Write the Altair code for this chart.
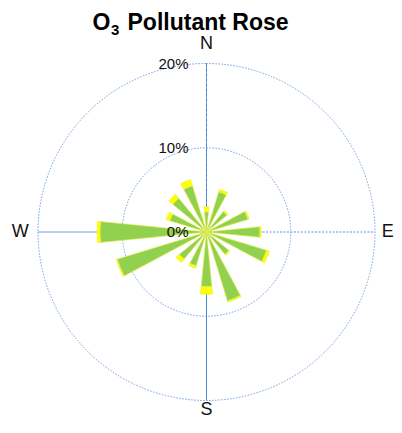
import altair as alt
import pandas as pd

# Wind direction sectors (degrees, clockwise from North)
directions = [0, 22.5, 45, 67.5, 90, 112.5, 135, 157.5,
              180, 202.5, 225, 247.5, 270, 292.5, 315, 337.5]
# Total frequency (%) per sector
totals = [3.0, 5.3, 3.3, 5.3, 6.5, 7.8, 3.6, 8.7,
          7.4, 4.5, 4.7, 11.2, 13.0, 5.0, 5.8, 6.5]
# Portion of the upper concentration bin (yellow) per sector
upper = [0.6, 0.3, 0.15, 0.15, 0.15, 0.35, 0.15, 0.15,
         0.9, 0.3, 0.5, 0.12, 0.35, 0.45, 0.6, 0.75]
bins = ["low", "high"]
bin_colors = ["#92D050", "#FFFF00"]

grid_levels = [10, 20]
pct_labels = ["0%", "10%", "20%"]
pct_values = [0, 10, 20]
compass = ["N", "E", "S", "W"]
compass_angles = [0, 90, 180, 270]
compass_radius = [22.3, 21.5, 21.1, 22.1]

HALF = 5.6
R = 168.5
CX, CY = 198.5, 224.0
W, H = 386, 410

rows = []
for d, t, u in zip(directions, totals, upper):
    lo = t - u
    rows.append({"dir": d, "t0": d - HALF, "t1": d + HALF, "r0": 0, "r1": lo, "bin": bins[0]})
    rows.append({"dir": d, "t0": d - HALF, "t1": d + HALF, "r0": lo, "r1": t, "bin": bins[1]})
wedges = pd.DataFrame(rows)

theta_scale = alt.Scale(type="linear", domain=[0, 360], range=[0, 6.283185307])
r_scale = alt.Scale(type="linear", domain=[0, 20], range=[0, R], zero=True)

cx = alt.value(CX)
cy = alt.value(CY)

circles = alt.Chart(pd.DataFrame({"lvl": grid_levels, "a0": [0, 0], "a1": [360, 360]})).mark_arc(
    filled=False, stroke="#6f9fe0", strokeWidth=1, strokeDash=[1.5, 1.5]
).encode(
    theta=alt.Theta("a0:Q", scale=theta_scale),
    theta2="a1:Q",
    radius=alt.Radius("lvl:Q", scale=r_scale),
    x=cx, y=cy,
)

line_n = alt.Chart(pd.DataFrame({"a": [0]})).mark_rule(
    stroke="#3f7fd8", strokeWidth=1, strokeDash=[3, 2]
).encode(x=alt.value(CX), x2=alt.value(CX), y=alt.value(CY - R), y2=alt.value(CY))
line_s = alt.Chart(pd.DataFrame({"a": [0]})).mark_rule(
    stroke="#4f8ad8", strokeWidth=1
).encode(x=alt.value(CX), x2=alt.value(CX), y=alt.value(CY), y2=alt.value(CY + R))
line_e = alt.Chart(pd.DataFrame({"a": [0]})).mark_rule(
    stroke="#5b93dc", strokeWidth=1, strokeDash=[2, 1.5]
).encode(x=alt.value(CX), x2=alt.value(CX + R), y=alt.value(CY), y2=alt.value(CY))
line_w = alt.Chart(pd.DataFrame({"a": [0]})).mark_rule(
    stroke="#6f9fe0", strokeWidth=1
).encode(x=alt.value(CX - R), x2=alt.value(CX), y=alt.value(CY), y2=alt.value(CY))

rose = alt.Chart(wedges).mark_arc(stroke="#E6F03C", strokeWidth=0.6).encode(
    theta=alt.Theta("t0:Q", scale=theta_scale),
    theta2="t1:Q",
    radius=alt.Radius("r1:Q", scale=r_scale),
    radius2="r0:Q",
    color=alt.Color("bin:N", scale=alt.Scale(domain=bins, range=bin_colors), legend=None),
    x=cx, y=cy,
)

pct = alt.Chart(pd.DataFrame({"lab": pct_labels, "v": pct_values, "a": [0, 0, 0]})).mark_text(
    font="Liberation Sans", fontSize=15, align="right", baseline="middle", dx=-18, color="#111111"
).encode(
    theta=alt.Theta("a:Q", scale=theta_scale),
    radius=alt.Radius("v:Q", scale=r_scale),
    text="lab:N",
    x=cx, y=cy,
)

comp = alt.Chart(pd.DataFrame({"lab": compass, "a": compass_angles, "r": compass_radius})).mark_text(
    font="Liberation Sans", fontSize=18, align="center", baseline="middle", color="#111111"
).encode(
    theta=alt.Theta("a:Q", scale=theta_scale),
    radius=alt.Radius("r:Q", scale=r_scale),
    text="lab:N",
    x=cx, y=cy,
)

t_o = alt.Chart(pd.DataFrame({"s": ["O"]})).mark_text(
    font="Liberation Sans", fontSize=23, fontWeight="bold", align="left", baseline="alphabetic", color="#000000"
).encode(text="s:N", x=alt.value(84.5), y=alt.value(22))
t_3 = alt.Chart(pd.DataFrame({"s": ["3"]})).mark_text(
    font="Liberation Sans", fontSize=15, fontWeight="bold", align="left", baseline="alphabetic", color="#000000"
).encode(text="s:N", x=alt.value(103), y=alt.value(27))
t_rest = alt.Chart(pd.DataFrame({"s": ["Pollutant Rose"]})).mark_text(
    font="Liberation Sans", fontSize=23, fontWeight="bold", align="left", baseline="alphabetic", color="#000000"
).encode(text="s:N", x=alt.value(119.5), y=alt.value(22))

chart = alt.layer(
    circles, line_n, line_s, line_e, line_w, rose, pct, comp, t_o, t_3, t_rest
).properties(
    width=W, height=H, autosize=alt.AutoSizeParams(type="none"), padding=0
).configure_view(stroke=None)

chart.save("out.html", embed_options={"renderer": "svg", "actions": False})
